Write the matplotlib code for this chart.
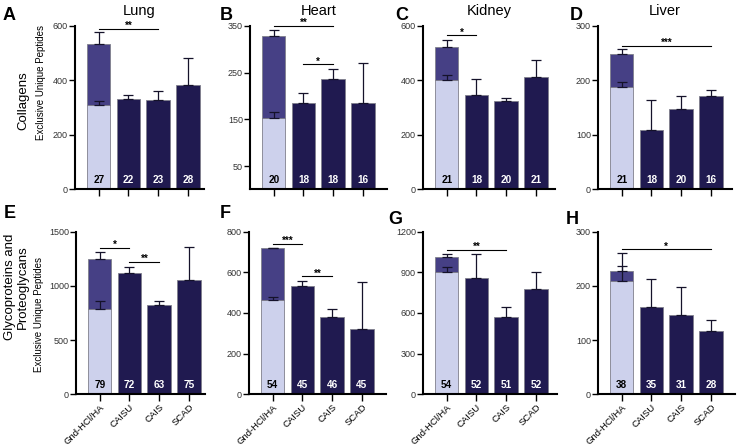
import numpy as np
import matplotlib
matplotlib.use("Agg")
import matplotlib.pyplot as plt

plt.rcParams['font.family'] = ['Liberation Sans', 'DejaVu Sans']

# -----------------------------
# DATA
# -----------------------------
groups = ["Gnd-HCl/HA", "CAISU", "CAIS", "SCAD"]
organs = ["Lung", "Heart", "Kidney", "Liver"]

# Collagens: bar height, upper SD, light (Gnd-HCl) part and its SD, counts
col_mean = [[535, 331, 329, 385], [329, 186, 236, 186],
            [524, 345, 325, 413], [248, 110, 147, 171]]
col_err = [[42, 14, 33, 97], [13, 20, 21, 85],
           [24, 60, 9, 64], [9, 55, 25, 11]]
col_light = [310, 152, 402, 188]
col_light_err = [15, 14, 20, 9]
col_n = [[27, 22, 23, 28], [20, 18, 18, 16],
         [21, 18, 20, 21], [21, 18, 20, 16]]

# Glycoproteins and Proteoglycans
gly_mean = [[1244, 1119, 820, 1049], [717, 531, 380, 320],
            [1015, 859, 568, 774], [227, 161, 146, 117]]
gly_err = [[67, 57, 43, 311], [2, 25, 40, 234],
           [17, 175, 77, 131], [33, 52, 52, 20]]
gly_light = [787, 461, 900, 208]
gly_light_err = [70, 18, 39, 28]
gly_n = [[79, 72, 63, 75], [54, 45, 46, 45],
         [54, 52, 51, 52], [38, 35, 31, 28]]

# significance brackets: (from, to, stars, height)
col_sig = [[(0, 2, "**", 589)],
           [(0, 2, "**", 350), (1, 2, "*", 268)],
           [(0, 1, "*", 566)],
           [(0, 3, "***", 264)]]
gly_sig = [[(0, 1, "*", 1351), (1, 2, "**", 1217)],
           [(0, 1, "***", 738), (1, 2, "**", 579)],
           [(0, 2, "**", 1062)],
           [(0, 3, "*", 267)]]

col_ticks = [[0, 200, 400, 600], [50, 150, 250, 350],
             [0, 200, 400, 600], [0, 100, 200, 300]]
gly_ticks = [[0, 500, 1000, 1500], [0, 200, 400, 600, 800],
             [0, 300, 600, 900, 1200], [0, 100, 200, 300]]
col_ylim = [600, 350, 600, 300]
gly_ylim = [1500, 800, 1200, 300]

# -----------------------------
# STYLE / LAYOUT
# -----------------------------
DARK = "#201a50"
MID = "#464085"
LIGHT = "#cdd1ec"
EDGE = "#80808c"
W, H = 738, 448
SPACING = 29.7  # px between bar centres

top_rows = [(26, 189.5), (231.5, 394.3)]
lefts = [[75, 250, 423, 598], [76, 249, 423, 598]]
rights = [[204, 387, 555, 732], [205, 386, 557, 735]]
letters = [["A", "B", "C", "D"], ["E", "F", "G", "H"]]
letter_pos = [[(3, 15), (220, 15), (395, 15), (570, 15)],
              [(4, 213), (220, 213), (388, 219), (566, 219)]]

fig = plt.figure(figsize=(W / 100, H / 100), dpi=100)


def draw_panel(ax, mean, err, light, light_err, n, sig, ticks, ymax):
    x = np.arange(len(groups))
    dark_vals = [0] + list(mean[1:])
    ax.bar(x, dark_vals, width=0.79, color=DARK, edgecolor=EDGE, linewidth=0.6, zorder=2)
    ax.bar(0, light, width=0.79, color=LIGHT, edgecolor=EDGE, linewidth=0.6, zorder=2)
    ax.bar(0, mean[0] - light, bottom=light, width=0.79, color=MID,
           edgecolor=EDGE, linewidth=0.6, zorder=2)
    ax.errorbar(x, mean, yerr=[np.zeros(len(err)), err], fmt='none',
                ecolor='#15122a', elinewidth=0.9, capsize=3.6, capthick=0.9, zorder=3)
    ax.errorbar([0], [light], yerr=[[0], [light_err]], fmt='none',
                ecolor='#15122a', elinewidth=0.9, capsize=3.6, capthick=0.9, zorder=3)
    for i, cnt in enumerate(n):
        ax.annotate(str(cnt), (i, 0), xytext=(0, 3), textcoords='offset points',
                    ha='center', va='bottom', fontsize=7.2, fontweight='bold',
                    color='black' if i == 0 else 'white', zorder=4)
    for a, b, stars, yv in sig:
        ax.plot([a, b], [yv, yv], color='black', lw=0.8, clip_on=False, zorder=4)
        ax.annotate(stars, ((a + b) / 2, yv), xytext=(0, -1.5), textcoords='offset points',
                    ha='center', va='bottom', fontsize=7, fontweight='bold',
                    annotation_clip=False)
    ax.set_ylim(0, ymax)
    ax.set_yticks(ticks)
    ax.set_xticks(x)
    ax.tick_params(axis='y', length=4, width=1, labelsize=6.5, labelcolor='#333333', pad=1)
    ax.tick_params(axis='x', length=5, width=1, pad=1)
    for s in ['top', 'right']:
        ax.spines[s].set_visible(False)
    for s in ['left', 'bottom']:
        ax.spines[s].set_linewidth(1.5)


for r in range(2):
    top, bot = top_rows[r]
    for c in range(4):
        l, rr = lefts[r][c], rights[r][c]
        ax = fig.add_axes([l / W, 1 - bot / H, (rr - l) / W, (bot - top) / H])
        ax.set_xlim(-0.8, -0.8 + (rr - l) / SPACING)
        if r == 0:
            draw_panel(ax, col_mean[c], col_err[c], col_light[c], col_light_err[c],
                       col_n[c], col_sig[c], col_ticks[c], col_ylim[c])
            ax.set_xticklabels([])
            ax.set_title(organs[c], fontsize=10.5, pad=8)
        else:
            draw_panel(ax, gly_mean[c], gly_err[c], gly_light[c], gly_light_err[c],
                       gly_n[c], gly_sig[c], gly_ticks[c], gly_ylim[c])
            ax.set_xticklabels(groups, rotation=45, ha='right', rotation_mode='anchor',
                               fontsize=6.8)
        lx, ly = letter_pos[r][c]
        fig.text(lx / W, 1 - ly / H, letters[r][c], fontsize=13, fontweight='bold',
                 va='center', ha='left')

# row labels
fig.text(23 / W, 1 - 101 / H, "Collagens", rotation=90, fontsize=9.5,
         ha='center', va='center')
fig.text(41 / W, 1 - 82 / H, "Exclusive Unique Peptides", rotation=90, fontsize=7,
         ha='center', va='center')
fig.text(16 / W, 1 - 287 / H, "Glycoproteins and\nProteoglycans", rotation=90,
         fontsize=9.5, ha='center', va='center', multialignment='center', linespacing=1.1)
fig.text(39 / W, 1 - 315 / H, "Exclusive Unique Peptides", rotation=90, fontsize=7,
         ha='center', va='center')

plt.savefig("out.png", dpi=100)
